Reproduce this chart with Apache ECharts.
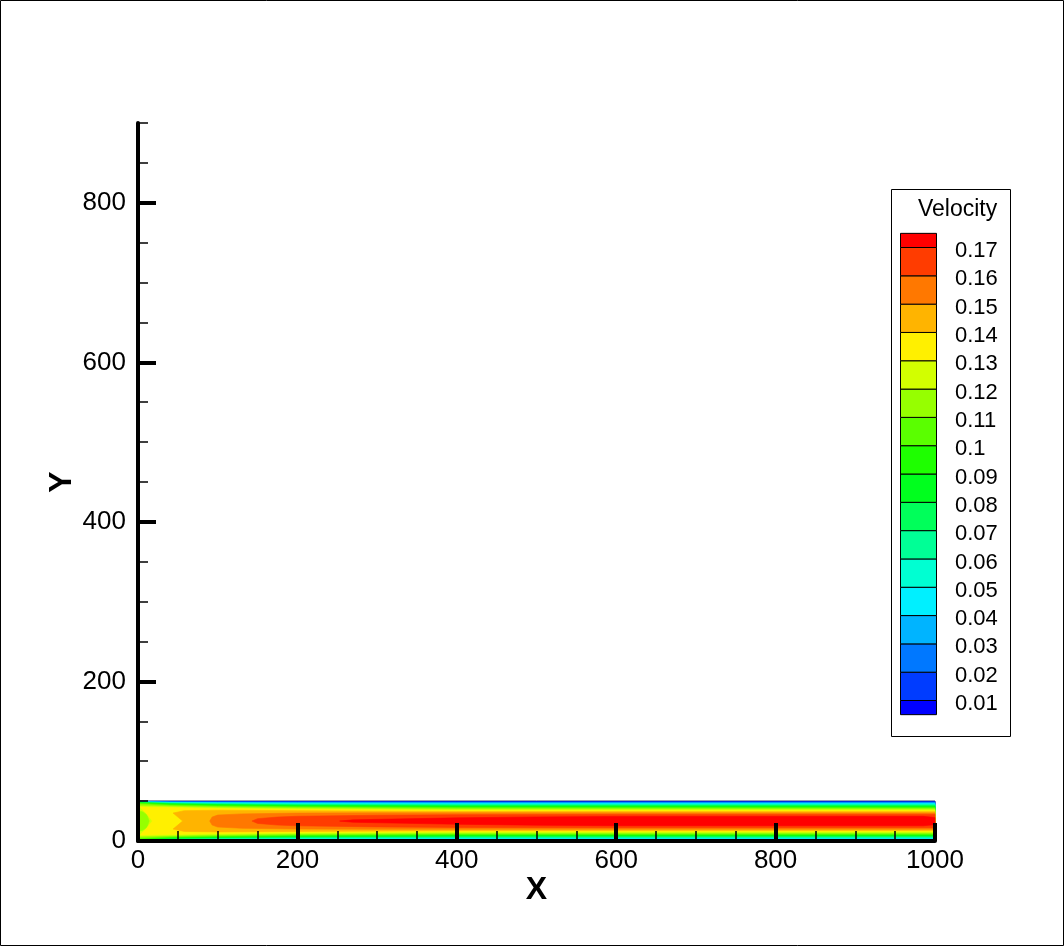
<!DOCTYPE html>
<html>
<head>
<meta charset="utf-8">
<script src="https://cdn.jsdelivr.net/npm/echarts@6/dist/echarts.min.js"></script>
<style>
html,body{margin:0;padding:0;background:#fff;}
#chart{width:1064px;height:946px;}
</style>
</head>
<body>
<div id="chart"></div>
<script>
// ---- axes ----
const xRange = [0, 1000];
const yRange = [0, 900];
const xMajorTicks = [0, 200, 400, 600, 800, 1000];
const yMajorTicks = [0, 200, 400, 600, 800];
const minorStep = 50;

// ---- contour levels / legend ----
const levels = [0.01, 0.02, 0.03, 0.04, 0.05, 0.06, 0.07, 0.08, 0.09, 0.1, 0.11, 0.12, 0.13, 0.14, 0.15, 0.16, 0.17];
const levelLabels = ['0.01','0.02','0.03','0.04','0.05','0.06','0.07','0.08','0.09','0.1','0.11','0.12','0.13','0.14','0.15','0.16','0.17'];
const bandColors = ['#0000FF','#003CFF','#0078FF','#00B4FF','#00F0FF','#00FFD2','#00FF96','#00FF5A','#00FF1E',
                    '#1EFF00','#5AFF00','#96FF00','#D2FF00','#FFF000','#FFB400','#FF7800','#FF3C00','#FF0000'];
const legendTitle = 'Velocity';

// ---- channel & iso-contour positions: [x, half-width about centre line] ----
const channelCenterY = 25;
const c00 = [[0, 25], [1000, 25]];                       // whole channel (u >= 0)
const c01 = [[0, 24.8], [40, 24.6], [100, 24.5], [200, 24.4], [400, 24.3], [1000, 24.3]];
const c02 = [[0, 24.6], [40, 24.2], [100, 24.0], [200, 23.8], [400, 23.6], [1000, 23.6]];
const c03 = [[0, 24.4], [40, 23.8], [100, 23.4], [200, 23.1], [400, 22.9], [1000, 22.8]];
const c04 = [[0, 24.2], [40, 23.4], [100, 22.9], [200, 22.5], [400, 22.1], [1000, 22.0]];
const c05 = [[0, 24.0], [40, 23.0], [100, 22.4], [200, 21.8], [400, 21.3], [1000, 21.2]];
const c06 = [[0, 23.8], [40, 22.6], [100, 21.8], [200, 21.1], [400, 20.5], [1000, 20.4]];
const c07 = [[0, 23.5], [40, 22.1], [100, 21.2], [200, 20.3], [400, 19.7], [1000, 19.5]];
const c08 = [[0, 23.2], [40, 21.6], [100, 20.6], [200, 19.6], [400, 18.8], [1000, 18.6]];
const c09 = [[0, 22.8], [40, 21.0], [100, 19.9], [200, 18.8], [400, 17.9], [1000, 17.7]];
const c10 = [[0, 22.2], [40, 20.2], [100, 19.0], [200, 17.9], [400, 16.9], [1000, 16.7]];
const c11 = [[0, 21.0], [40, 19.2], [100, 18.0], [200, 16.9], [400, 15.8], [1000, 15.6]];
const c12 = [[0, 19.0], [40, 18.0], [100, 16.8], [200, 15.6], [400, 14.6], [1000, 14.4]];
const inletCore = [[0, 13], [6, 11.5], [11, 8], [14, 0]];   // u < 0.12 pocket at the inlet
const c13 = [[18, 0], [10, 10], [5, 15], [3, 17.5], [20, 17.3], [50, 16.6], [100, 15.6], [200, 14.5], [400, 13.4], [1000, 13.2]];
const c14 = [[56, 0], [44, 10], [58, 13], [100, 13.6], [200, 13.0], [400, 12.0], [1000, 11.8]];
const c15 = [[90, 0], [93, 5], [100, 7.5], [130, 9], [200, 10], [300, 10.3], [1000, 10.2]];
const c16 = [[143, 0], [150, 3], [175, 5], [200, 6], [300, 7.3], [400, 8], [600, 8.3], [1000, 8.3]];
const c17 = [[253, 0], [270, 1.5], [320, 2.5], [400, 4], [500, 5.2], [600, 5.8], [985, 5.9], [1000, 4.5]];

const contourShapes = [c00, c01, c02, c03, c04, c05, c06, c07, c08, c09, c10, c11, c12, inletCore, c13, c14, c15, c16, c17];
const contourBands  = [0, 1, 2, 3, 4, 5, 6, 7, 8, 9, 10, 11, 12, 11, 13, 14, 15, 16, 17];

// ---- build chart ----
const chart = echarts.init(document.getElementById('chart'), null, {renderer: 'canvas'});
const FONT = 'Liberation Sans, Arial, sans-serif';

function renderContour(params, api) {
  const k = api.value(0);
  const shp = contourShapes[k];
  const color = bandColors[contourBands[k]];
  const pts = [];
  for (let i = 0; i < shp.length; i++) pts.push(api.coord([shp[i][0], channelCenterY + shp[i][1]]));
  for (let i = shp.length - 1; i >= 0; i--) pts.push(api.coord([shp[i][0], channelCenterY - shp[i][1]]));
  const isOutline = k === 0;
  return {
    type: 'polygon',
    shape: {points: pts},
    style: {fill: color, stroke: isOutline ? '#000050' : color, lineWidth: isOutline ? 1 : 0.6}
  };
}

// legend graphics built from levels & colours
const legendBox = {x: 891, y: 189, w: 119, h: 547};
const blockX = 900, blockW = 36;
const topBoundary = 247, bottomBoundary = 700;
const step = (bottomBoundary - topBoundary) / (levels.length - 1);
const graphics = [
  {type: 'rect', shape: {x: 0.5, y: 0.5, width: 1063, height: 945}, style: {fill: 'none', stroke: '#000', lineWidth: 1}, z: 100},
  {type: 'rect', shape: {x: legendBox.x + 0.5, y: legendBox.y + 0.5, width: legendBox.w, height: legendBox.h}, style: {fill: '#fff', stroke: '#000', lineWidth: 1}},
  {type: 'text', style: {text: legendTitle, x: 918, y: 210, font: '23px ' + FONT, fill: '#000', align: 'left', verticalAlign: 'middle'}}
];
for (let b = 0; b < bandColors.length; b++) {
  // band b lies between level b-1 and level b (end bands half height)
  const yLow = b === 0 ? bottomBoundary + step / 2 : bottomBoundary - (b - 1) * step;
  const yHigh = b === bandColors.length - 1 ? topBoundary - step / 2 : bottomBoundary - b * step;
  graphics.push({type: 'rect', shape: {x: blockX + 0.5, y: yHigh + 0.5, width: blockW, height: yLow - yHigh},
    style: {fill: bandColors[b], stroke: '#000', lineWidth: 1}});
}
for (let i = 0; i < levels.length; i++) {
  const yb = bottomBoundary - i * step;
  graphics.push({type: 'text', style: {text: levelLabels[i], x: 955, y: yb + 4, font: '22px ' + FONT, fill: '#000', align: 'left', verticalAlign: 'middle'}});
}

const option = {
  animation: false,
  backgroundColor: '#fff',
  grid: {left: 138, top: 123, width: 797, height: 718},
  xAxis: [
    {
      type: 'value', min: xRange[0], max: xRange[1], interval: minorStep, position: 'bottom', z: 5,
      axisLine: {onZero: false, lineStyle: {color: '#000', width: 4}},
      axisTick: {inside: true, length: 10, lineStyle: {color: '#000', width: 1.5}},
      axisLabel: {formatter: v => (xMajorTicks.indexOf(v) >= 0 ? String(v) : ''), fontSize: 26, fontFamily: FONT, color: '#000', margin: 7},
      splitLine: {show: false},
      name: 'X', nameLocation: 'middle', nameGap: 33, nameMoveOverlap: false,
      nameTextStyle: {fontSize: 32, fontWeight: 'bold', fontFamily: FONT, color: '#000'}
    },
    {
      type: 'value', min: xRange[0], max: xRange[1], position: 'bottom', z: 6,
      axisLine: {show: false, onZero: false},
      axisTick: {inside: true, length: 18, customValues: xMajorTicks, lineStyle: {color: '#000', width: 4}},
      axisLabel: {show: false}, splitLine: {show: false}
    }
  ],
  yAxis: [
    {
      type: 'value', min: yRange[0], max: yRange[1], interval: minorStep, position: 'left', z: 5,
      axisLine: {onZero: false, lineStyle: {color: '#000', width: 4}},
      axisTick: {inside: true, length: 10, lineStyle: {color: '#000', width: 1.5}},
      axisLabel: {formatter: v => (yMajorTicks.indexOf(v) >= 0 ? String(v) : ''), fontSize: 26, fontFamily: FONT, color: '#000', margin: 12},
      splitLine: {show: false},
      name: 'Y', nameLocation: 'middle', nameGap: 60, nameRotate: 90, nameMoveOverlap: false,
      nameTextStyle: {fontSize: 32, fontWeight: 'bold', fontFamily: FONT, color: '#000'}
    },
    {
      type: 'value', min: yRange[0], max: yRange[1], position: 'left', z: 6,
      axisLine: {show: false, onZero: false},
      axisTick: {inside: true, length: 18, customValues: yMajorTicks, lineStyle: {color: '#000', width: 4}},
      axisLabel: {show: false}, splitLine: {show: false}
    }
  ],
  series: [{
    type: 'custom',
    xAxisIndex: 0, yAxisIndex: 0,
    renderItem: renderContour,
    data: contourShapes.map((s, i) => [i]),
    encode: {x: -1, y: -1},
    z: 2,
    silent: true
  }],
  graphic: graphics
};
chart.setOption(option);
</script>
</body>
</html>
